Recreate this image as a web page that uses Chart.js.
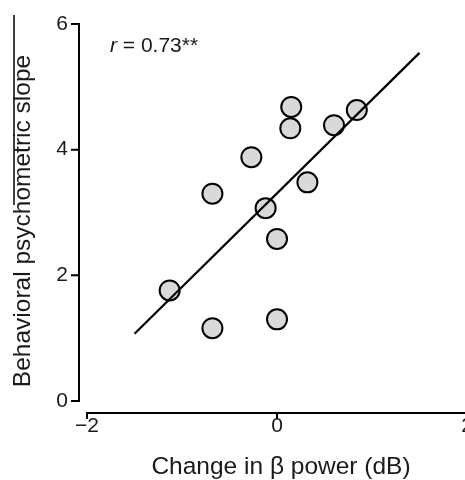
<!DOCTYPE html>
<html>
<head>
<meta charset="utf-8">
<script src="https://cdn.jsdelivr.net/npm/chart.js@4.4.1/dist/chart.umd.min.js"></script>
<style>
  html, body { margin: 0; padding: 0; background: #fff; overflow: hidden; }
  #wrap { width: 480px; height: 480px; }
</style>
</head>
<body>
<div id="wrap"><canvas id="grafico" width="480" height="480"></canvas></div>
<script>
// ===============================
//   Dados
// ===============================
const betaChange = [0.15, 0.14, 0.84, 0.60, -0.27, 0.32, -0.68, -0.12, 0.00, -1.13, -0.68, 0.00];
const slope      = [4.68, 4.34, 4.63, 4.39, 3.88, 3.48, 3.30, 3.07, 2.58, 1.76, 1.16, 1.30];
const fitX = [-1.5, 1.5];
const fitY = [1.07, 5.54];
const xTicks = [-2, 0, 2];
const yTicks = [0, 2, 4, 6];
const xTitle = "Change in \u03B2 power (dB)";
const yTitle = "Behavioral psychometric slope";

const FONTE = '"Liberation Sans", Arial, sans-serif';
const COR = "#1a1a1a";

const fmt = (v) => (v < 0 ? "\u2212" + Math.abs(v) : String(v));

// eixos destacados + textos
const eixosPlugin = {
  id: "eixos",
  afterDraw(chart) {
    const ctx = chart.ctx;
    const sx = chart.scales.x, sy = chart.scales.y;
    const area = chart.chartArea;
    ctx.save();
    ctx.strokeStyle = "#000";
    ctx.lineWidth = 2;
    ctx.lineCap = "square";

    // eixo y
    const yx = area.left + 1;
    ctx.beginPath();
    ctx.moveTo(yx, sy.getPixelForValue(yTicks[0]));
    ctx.lineTo(yx, sy.getPixelForValue(yTicks[yTicks.length - 1]));
    yTicks.forEach(v => {
      const p = sy.getPixelForValue(v);
      ctx.moveTo(yx, p);
      ctx.lineTo(yx - 7, p);
    });
    ctx.stroke();

    // eixo x
    const xy = area.bottom;
    ctx.beginPath();
    ctx.moveTo(sx.getPixelForValue(xTicks[0]), xy);
    ctx.lineTo(sx.getPixelForValue(xTicks[xTicks.length - 1]), xy);
    xTicks.forEach(v => {
      const p = sx.getPixelForValue(v);
      ctx.moveTo(p, xy);
      ctx.lineTo(p, xy + 5);
    });
    ctx.stroke();

    // linha solta na margem esquerda (como na figura)
    ctx.lineWidth = 1.5;
    ctx.lineCap = "butt";
    ctx.beginPath();
    ctx.moveTo(14, 15);
    ctx.lineTo(14, 205);
    ctx.stroke();

    // titulos
    ctx.fillStyle = COR;
    ctx.font = "24.5px " + FONTE;
    ctx.textAlign = "center";
    ctx.textBaseline = "middle";
    ctx.fillText(xTitle, 281, 467);

    ctx.save();
    ctx.translate(23, 221);
    ctx.rotate(-Math.PI / 2);
    ctx.fillText(yTitle, 0, 0);
    ctx.restore();

    // r = 0.73**
    ctx.textAlign = "left";
    ctx.textBaseline = "alphabetic";
    ctx.font = "italic 21px " + FONTE;
    ctx.fillText("r", 110, 52);
    const w = ctx.measureText("r").width;
    ctx.font = "21px " + FONTE;
    ctx.fillText(" = 0.73**", 110 + w, 52);

    ctx.restore();
  }
};

new Chart(document.getElementById("grafico"), {
  type: "scatter",
  data: {
    datasets: [
      {
        type: "line",
        data: fitX.map((x, i) => ({ x: x, y: fitY[i] })),
        borderColor: "#000",
        borderWidth: 2.2,
        pointRadius: 0,
        fill: false,
        clip: false,
        order: 0
      },
      {
        data: betaChange.map((x, i) => ({ x: x, y: slope[i] })),
        backgroundColor: "#d9d9d9",
        borderColor: "#000",
        borderWidth: 2,
        pointRadius: 10,
        pointHoverRadius: 10,
        clip: false,
        order: 1
      }
    ]
  },
  options: {
    responsive: false,
    animation: false,
    layout: { padding: { top: 24, right: 13, left: 0, bottom: 0 } },
    plugins: { legend: { display: false }, tooltip: { enabled: false } },
    scales: {
      x: {
        type: "linear",
        min: -2.095,
        max: 2,
        grid: { display: false, drawTicks: false },
        border: { display: false },
        afterBuildTicks: (s) => { s.ticks = xTicks.map(v => ({ value: v })); },
        afterFit: (s) => { s.height = 67; },
        ticks: {
          padding: 1,
          autoSkip: false,
          maxRotation: 0,
          color: COR,
          font: { family: FONTE, size: 21 },
          callback: (v) => fmt(v)
        }
      },
      y: {
        type: "linear",
        min: -0.19,
        max: 6,
        grid: { display: false, drawTicks: false },
        border: { display: false },
        afterBuildTicks: (s) => { s.ticks = yTicks.map(v => ({ value: v })); },
        afterFit: (s) => { s.width = 78; },
        ticks: {
          padding: 10,
          autoSkip: false,
          color: COR,
          font: { family: FONTE, size: 21 },
          callback: (v) => fmt(v)
        }
      }
    }
  },
  plugins: [eixosPlugin]
});
</script>
</body>
</html>
